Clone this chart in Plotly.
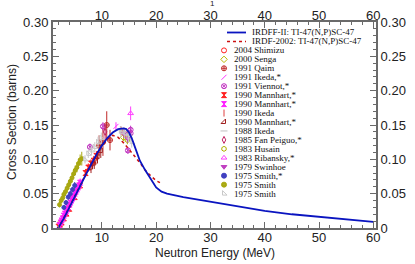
import plotly.graph_objects as go

# ---------------- data ----------------
irdff_E = [1.8, 2.0, 3, 4, 5, 6, 7, 8, 9, 10, 11, 12, 13, 14, 14.5, 15, 15.5, 16, 16.5, 17, 18, 19, 20, 21, 22, 25, 30, 35, 40, 45, 50, 55, 60]
irdff_s = [0, 0.0005, 0.014, 0.029, 0.045, 0.061, 0.077, 0.093, 0.107, 0.120, 0.131, 0.139, 0.144, 0.145, 0.144, 0.139, 0.131, 0.120, 0.108, 0.098, 0.084, 0.071, 0.059, 0.053, 0.050, 0.045, 0.038, 0.031, 0.025, 0.020, 0.016, 0.013, 0.009]

irdf_E = [1.8, 2.0, 3, 4, 5, 6, 7, 8, 9, 10, 11, 12, 13, 14, 15, 16, 17, 18, 19, 20, 20.7]
irdf_s = [0, 0.0005, 0.015, 0.030, 0.046, 0.062, 0.078, 0.093, 0.107, 0.119, 0.129, 0.135, 0.132, 0.124, 0.115, 0.105, 0.095, 0.084, 0.076, 0.069, 0.066]

shimizu_E = [13.8, 14.5]
shimizu_s = [0.140, 0.136]
shimizu_err = [0.005, 0.005]

senga_E = [14.0]
senga_s = [0.132]
senga_err = [0.005]

qaim_E = [9.5, 10.2, 10.9, 11.5]
qaim_s = [0.120, 0.125, 0.150, 0.128]
qaim_err = [0.015, 0.020, 0.020, 0.015]

ikeda91_E = [12.6]
ikeda91_s = [0.148]
ikeda91_err = [0.006]

viennot_E = [7.8, 10.2, 14.8, 15.3, 15.3]
viennot_s = [0.118, 0.148, 0.113, 0.143, 0.138]
viennot_err = [0.005, 0.006, 0.005, 0.006, 0.006]

mannhartA_E = [2.0, 2.3, 2.6, 3.0, 3.5, 4.0, 5.0, 6.0, 7.0, 7.5, 8.0, 8.5, 9.0]
mannhartA_s = [0.002, 0.005, 0.008, 0.014, 0.021, 0.028, 0.045, 0.062, 0.080, 0.088, 0.094, 0.098, 0.105]
mannhartA_err = [0.001, 0.001, 0.002, 0.002, 0.003, 0.003, 0.004, 0.005, 0.006, 0.006, 0.006, 0.007, 0.007]

mannhartB_E = [2.2, 2.4, 2.6, 2.8, 3.0, 3.2, 3.4, 3.6, 3.8, 4.0, 4.2, 4.4, 4.6, 4.8, 5.0, 5.2, 5.4, 5.6, 5.8, 6.0]
mannhartB_s = [0.004, 0.008, 0.011, 0.014, 0.018, 0.021, 0.024, 0.027, 0.030, 0.034, 0.037, 0.040, 0.043, 0.046, 0.050, 0.053, 0.056, 0.059, 0.062, 0.066]
mannhartB_err = [0.002, 0.002, 0.003, 0.003, 0.003, 0.003, 0.004, 0.004, 0.004, 0.004, 0.004, 0.005, 0.005, 0.005, 0.005, 0.005, 0.005, 0.006, 0.006, 0.006]

ikeda90_E = [13.5, 14.1, 14.7]
ikeda90_s = [0.142, 0.140, 0.135]
ikeda90_err = [0.006, 0.006, 0.006]

mannhartC_E = [8.0, 8.6, 9.2, 9.8]
mannhartC_s = [0.088, 0.094, 0.103, 0.112]
mannhartC_err = [0.008, 0.008, 0.009, 0.010]

ikeda88_E = [13.4, 14.0, 14.6, 15.0]
ikeda88_s = [0.143, 0.141, 0.138, 0.135]
ikeda88_err = [0.005, 0.005, 0.005, 0.005]

fan_E = [10.6]
fan_s = [0.140]
fan_err = [0.012]

husain_E = [14.7]
husain_s = [0.128]
husain_err = [0.006]

ribansky_E = [15.3]
ribansky_s = [0.167]
ribansky_err = [0.010]

swinhoe_E = [14.1, 14.8]
swinhoe_s = [0.137, 0.130]
swinhoe_err = [0.006, 0.006]

smithA_E = [3.0, 3.4, 3.8, 4.2, 4.6, 5.0]
smithA_s = [0.030, 0.037, 0.045, 0.050, 0.056, 0.062]
smithA_err = [0.003, 0.003, 0.004, 0.004, 0.004, 0.005]

smithB_E = [2.2, 2.5, 2.8, 3.0, 3.3, 3.6, 3.9, 4.2, 4.5, 4.8, 5.1, 5.4, 5.7, 6.0, 6.3]
smithB_s = [0.034, 0.040, 0.044, 0.049, 0.053, 0.058, 0.063, 0.068, 0.073, 0.079, 0.084, 0.088, 0.094, 0.099, 0.101]
smithB_err = [0.004, 0.004, 0.005, 0.005, 0.005, 0.005, 0.006, 0.006, 0.006, 0.006, 0.007, 0.007, 0.007, 0.008, 0.010]

smithC_E = [6.9, 7.5, 8.1, 8.7, 9.3, 9.9, 13.5, 14.2, 14.9, 15.5]
smithC_s = [0.100, 0.108, 0.113, 0.118, 0.125, 0.131, 0.140, 0.138, 0.132, 0.125]
smithC_err = [0.006, 0.006, 0.007, 0.007, 0.008, 0.008, 0.008, 0.008, 0.008, 0.008]

x_ticks = [10, 20, 30, 40, 50, 60]
y_ticks = [0, 0.05, 0.10, 0.15, 0.20, 0.25, 0.30]
y_ticktext = ["0", "0.05", "0.10", "0.15", "0.20", "0.25", "0.30"]

curve_names = ["IRDFF-II: TI-47(N,P)SC-47", "IRDF-2002: TI-47(N,P)SC-47"]

# (label, E, s, err, symbol, color, size)
series = [
    ("2004 Shimizu", shimizu_E, shimizu_s, shimizu_err, "circle-open", "#ff2020", 5),
    ("2000 Senga", senga_E, senga_s, senga_err, "diamond-open", "#b8b800", 5),
    ("1991 Qaim", qaim_E, qaim_s, qaim_err, "circle-cross-open", "#c02828", 5),
    ("1991 Ikeda,*", ikeda91_E, ikeda91_s, ikeda91_err, "line-ne-open", "#ff30ff", 5),
    ("1991 Viennot,*", viennot_E, viennot_s, viennot_err, "circle-x-open", "#c030c0", 5),
    ("1990 Mannhart,*", mannhartA_E, mannhartA_s, mannhartA_err, "hourglass", "#ff2020", 5),
    ("1990 Mannhart,*", mannhartB_E, mannhartB_s, mannhartB_err, "hourglass", "#ff20ff", 5),
    ("1990 Ikeda", ikeda90_E, ikeda90_s, ikeda90_err, "line-ns-open", "#e04040", 5),
    ("1990 Mannhart,*", mannhartC_E, mannhartC_s, mannhartC_err, "triangle-se-open", "#a02020", 5),
    ("1988 Ikeda", ikeda88_E, ikeda88_s, ikeda88_err, "line-ew-open", "#c0c0c0", 5),
    ("1985 Fan Peiguo,*", fan_E, fan_s, fan_err, "diamond-tall-open", "#c02060", 5),
    ("1983 Husain", husain_E, husain_s, husain_err, "hexagon-open", "#b0b000", 5),
    ("1983 Ribansky,*", ribansky_E, ribansky_s, ribansky_err, "triangle-up-open", "#ff40ff", 5),
    ("1979 Swinhoe", swinhoe_E, swinhoe_s, swinhoe_err, "triangle-down", "#c040c0", 5),
    ("1975 Smith,*", smithA_E, smithA_s, smithA_err, "circle", "#4040c0", 4),
    ("1975 Smith", smithB_E, smithB_s, smithB_err, "circle-dot", "#a8a810", 4),
    ("1975 Smith", smithC_E, smithC_s, smithC_err, "triangle-sw-open", "#c8c8c8", 5),
]

# ---------------- layout geometry (pixels) ----------------
W, H = 415, 264
L, R, T, B = 53, 39, 22, 36
PW, PH = W - L - R, H - T - B


def px2x(px):
    return (px - L) / PW


def py2y(py):
    return (H - B - py) / PH


AX = "#6a6a6a"
TICKFONT = dict(family="Liberation Sans, Arial, sans-serif", size=13, color="#222")

fig = go.Figure()

# experimental data
for name, E, s, err, sym, col, sz in series:
    fig.add_trace(go.Scatter(
        x=E, y=s, mode="markers", name=name, showlegend=False,
        error_y=dict(type="data", array=err, color=col, thickness=1, width=0),
        marker=dict(symbol=sym, size=sz, color=col, line=dict(color=col, width=1)),
    ))

# evaluated curves
fig.add_trace(go.Scatter(x=irdf_E, y=irdf_s, mode="lines", name=curve_names[1], showlegend=False,
                         line=dict(color="#cc1010", width=1.5, dash="dot")))
fig.add_trace(go.Scatter(x=irdff_E, y=irdff_s, mode="lines", name=curve_names[0], showlegend=False,
                         line=dict(color="#0a14c0", width=1.8)))

# dummy traces for the mirrored (top/right) axes
fig.add_trace(go.Scatter(x=[None], y=[None], xaxis="x2", yaxis="y", showlegend=False, hoverinfo="skip"))
fig.add_trace(go.Scatter(x=[None], y=[None], xaxis="x", yaxis="y2", showlegend=False, hoverinfo="skip"))

# ---------------- custom legend ----------------
row0, dy = 32.5, 8.95
mark_x = px2x(224)
line_x0, line_x1 = px2x(227), px2x(246)
annotations = []
leg_font = dict(family="Liberation Serif, Times New Roman, serif", size=9, color="#111")
for i, (nm, col, dash) in enumerate([(curve_names[0], "#0a14c0", "solid"), (curve_names[1], "#cc1010", "dot")]):
    yy = py2y(row0 + dy * i)
    fig.add_trace(go.Scatter(x=[line_x0, line_x1], y=[yy, yy], xaxis="x3", yaxis="y3", mode="lines",
                             showlegend=False, hoverinfo="skip",
                             line=dict(color=col, width=1.8 if dash == "solid" else 1.5, dash=dash)))
    annotations.append(dict(x=px2x(250), y=yy, xref="paper", yref="paper", text=nm, showarrow=False,
                            xanchor="left", yanchor="middle", font=leg_font))
for j, (name, E, s, err, sym, col, sz) in enumerate(series):
    yy = py2y(row0 + dy * (j + 2))
    fig.add_trace(go.Scatter(x=[mark_x], y=[yy], xaxis="x3", yaxis="y3", mode="markers",
                             showlegend=False, hoverinfo="skip", cliponaxis=False,
                             marker=dict(symbol=sym, size=5, color=col, line=dict(color=col, width=1))))
    annotations.append(dict(x=px2x(232), y=yy, xref="paper", yref="paper", text=name, showarrow=False,
                            xanchor="left", yanchor="middle", font=leg_font))

# axis titles and the stray "1" on top
title_font = dict(family="Liberation Sans, Arial, sans-serif", size=12, color="#222")
annotations.append(dict(x=0.5, y=py2y(253), xref="paper", yref="paper", text="Neutron Energy (MeV)",
                        showarrow=False, xanchor="center", yanchor="middle", font=title_font))
annotations.append(dict(x=px2x(12), y=py2y(122), xref="paper", yref="paper", text="Cross Section (barns)",
                        showarrow=False, textangle=-90, xanchor="center", yanchor="middle", font=title_font))
annotations.append(dict(x=px2x(212), y=py2y(3), xref="paper", yref="paper", text="1",
                        showarrow=False, xanchor="center", yanchor="middle",
                        font=dict(family="Liberation Sans, Arial, sans-serif", size=8, color="#222")))

xcommon = dict(range=[1, 60.5], tickvals=x_ticks, ticks="inside", ticklen=6, tickwidth=1.2, tickcolor=AX,
               showline=True, linecolor=AX, linewidth=2, showgrid=False, zeroline=False, tickfont=TICKFONT,
               automargin=False,
               minor=dict(dtick=2, tick0=0, ticks="inside", ticklen=3, tickcolor=AX, tickwidth=1))
ycommon = dict(range=[0, 0.30], tickvals=y_ticks, ticktext=y_ticktext, ticks="inside", ticklen=6,
               tickwidth=1.2, tickcolor=AX, showline=True, linecolor=AX, linewidth=2, showgrid=False,
               zeroline=False, tickfont=TICKFONT, automargin=False,
               minor=dict(dtick=0.01, tick0=0, ticks="inside", ticklen=3, tickcolor=AX, tickwidth=1))

fig.update_layout(
    width=W, height=H,
    margin=dict(l=L, r=R, t=T, b=B, pad=0, autoexpand=False),
    paper_bgcolor="white", plot_bgcolor="rgba(0,0,0,0)",
    showlegend=False,
    xaxis=dict(**xcommon, side="bottom", ticklabelstandoff=-4),
    xaxis2=dict(**xcommon, side="top", overlaying="x", anchor="y", ticklabelstandoff=-5),
    yaxis=dict(**ycommon, side="left"),
    yaxis2=dict(**ycommon, side="right", overlaying="y", anchor="x"),
    xaxis3=dict(range=[0, 1], overlaying="x", visible=False, anchor="y3"),
    yaxis3=dict(range=[0, 1], overlaying="y", visible=False, anchor="x3"),
    annotations=annotations,
)

fig.write_html("out.html", config={"displayModeBar": False},
               post_script="document.body.style.margin='0';document.body.style.overflow='hidden';")
